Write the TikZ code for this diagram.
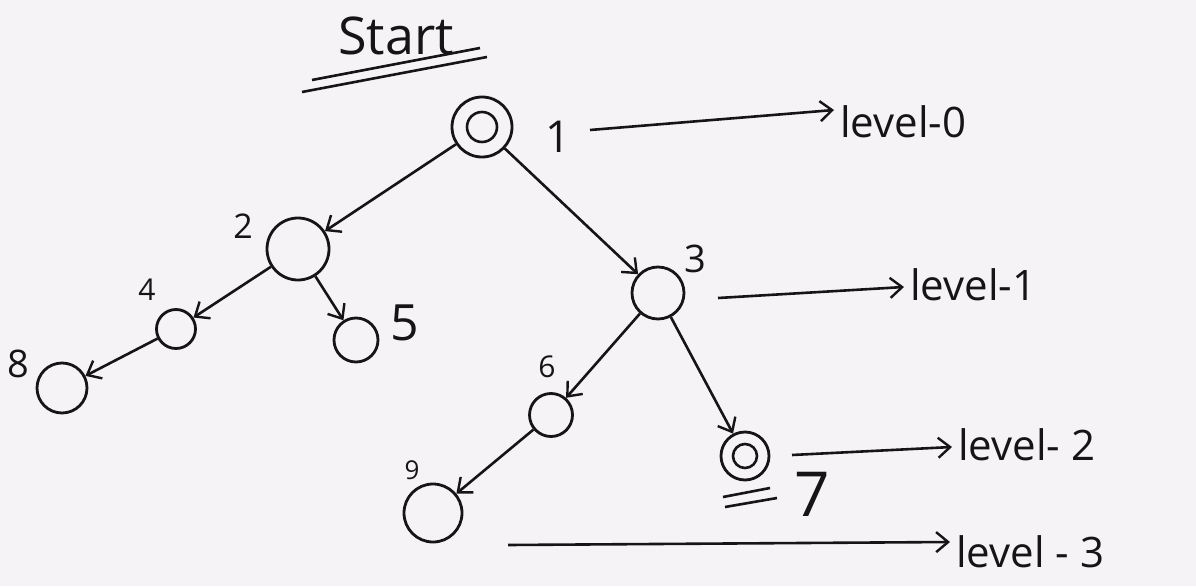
\documentclass[tikz,border=0pt]{standalone}
\usepackage{fontspec}
\setmainfont{Open Sans}
\usetikzlibrary{arrows.meta}
\definecolor{paper}{HTML}{F6F3F6}
\definecolor{ink}{HTML}{151515}
\begin{document}
\begin{tikzpicture}[x=1pt,y=-1pt,
  vert/.style={circle,draw=ink,line width=2.8pt,inner sep=0pt,minimum size=#1},
  ring/.style={path picture={\draw[ink,line width=2.6pt] (path picture bounding box.center) circle[radius=#1];}},
  edge/.style={draw=ink,line width=2.6pt,-{Straight Barb[length=12pt,width=20pt,line width=2.4pt]}},
  lab/.style={inner sep=0pt,text=ink,font=\fontsize{#1}{#1}\selectfont},
  lvl/.style={inner sep=0pt,anchor=west,text=ink,font=\fontsize{42}{42}\selectfont},
  stroke/.style={draw=ink,line width=2.6pt}
]
\useasboundingbox[fill=paper,draw=none] (0,0) rectangle (1196,586);

% title
\node[lab=52] (start) at (396,36) {Start};
\draw[stroke] (312,80) -- (480,48);
\draw[stroke] (302,92) -- (487,57);

% vertices
\node[vert=60pt,ring=15pt] (n1) at (482,127) {};
\node[vert=62pt] (n2) at (298,249) {};
\node[vert=52pt] (n3) at (658,293) {};
\node[vert=39pt] (n4) at (176,329) {};
\node[vert=44pt] (n5) at (356,340) {};
\node[vert=43pt] (n6) at (551,415) {};
\node[vert=48pt,ring=12pt] (n7) at (745,456) {};
\node[vert=50pt] (n8) at (62,388) {};
\node[vert=58pt] (n9) at (433,513) {};

% vertex labels
\node[lab=44] (t1) at (558,137) {1};
\node[lab=34] (t2) at (243,226) {2};
\node[lab=38] (t3) at (695,259) {3};
\node[lab=30] (t4) at (147,290) {4};
\node[lab=50] (t5) at (405,323) {5};
\node[lab=30] (t6) at (547,367) {6};
\node[lab=62] (t7) at (812,494) {7};
\node[lab=38] (t8) at (18,364) {8};
\node[lab=26] (t9) at (412,470) {9};
\draw[stroke] (723,497) -- (770,488);
\draw[stroke] (725,507) -- (777,498);

% tree edges
\draw[edge] (n1) -- (n2);
\draw[edge] (n1) -- (n3);
\draw[edge] (n2) -- (n4);
\draw[edge] (n2) -- (n5);
\draw[edge] (n4) -- (n8);
\draw[edge] (n3) -- (n6);
\draw[edge] (n3) -- (n7);
\draw[edge] (n6) -- (n9);

% levels
\node[lvl] (l0) at (840,122) {level-0};
\node[lvl] (l1) at (910,285) {level-1};
\node[lvl] (l2) at (958,445) {level- 2};
\node[lvl] (l3) at (956,552) {level - 3};
\coordinate (a0) at (590,130);
\coordinate (a1) at (718,298);
\coordinate (a2) at (792,455);
\coordinate (a3) at (508,545);
\draw[edge] (a0) -- ([xshift=-6pt,yshift=12pt]l0.west);
\draw[edge] (a1) -- ([xshift=-6pt,yshift=-2pt]l1.west);
\draw[edge] (a2) -- ([xshift=-6pt,yshift=-2pt]l2.west);
\draw[edge] (a3) -- ([xshift=-6pt,yshift=10pt]l3.west);
\end{tikzpicture}
\end{document}
